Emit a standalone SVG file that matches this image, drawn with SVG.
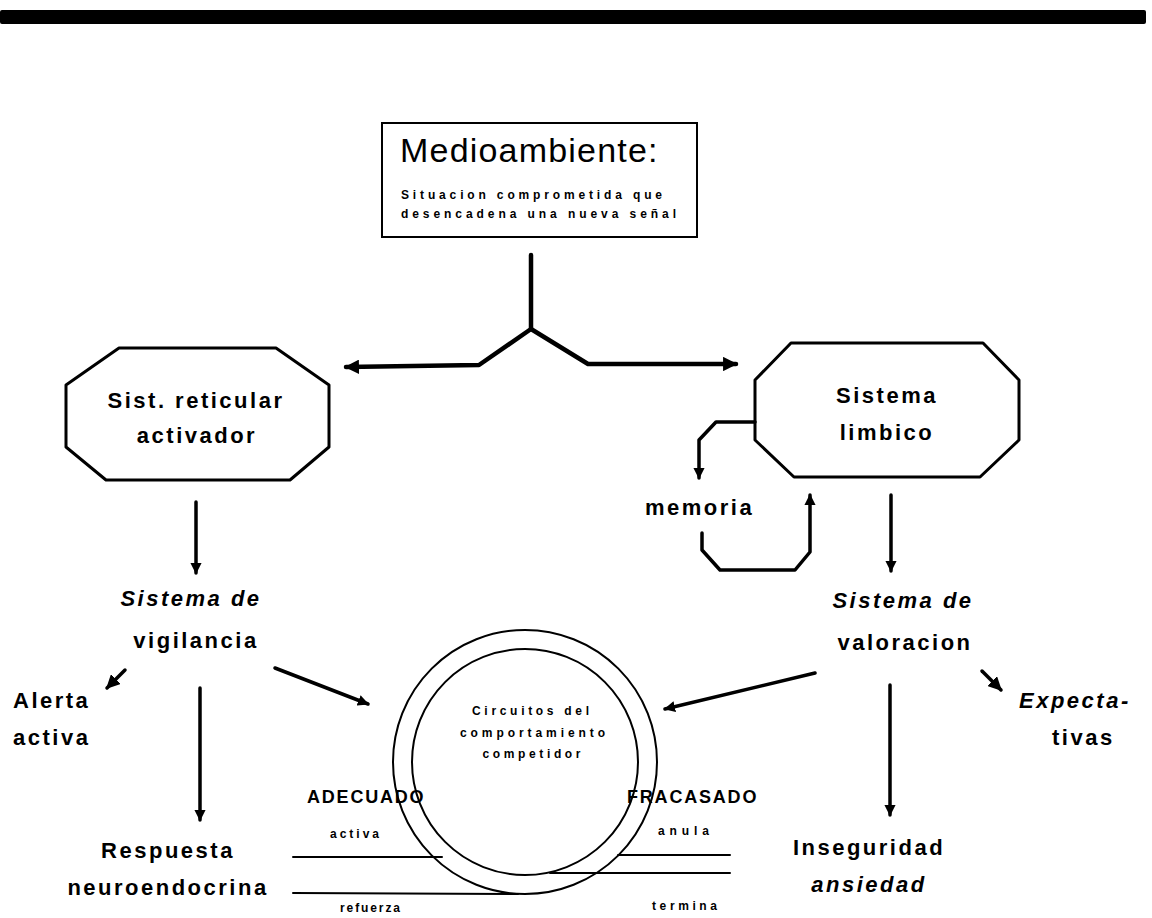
<svg xmlns="http://www.w3.org/2000/svg" width="1152" height="918" viewBox="0 0 1152 918">
  <defs>
    <marker id="ah" viewBox="0 0 10 10" refX="9" refY="5" markerWidth="3.2" markerHeight="3.2" orient="auto" markerUnits="strokeWidth">
      <path d="M0,0 L10,5 L0,10 z" fill="#000"/>
    </marker>
    <marker id="ahs" viewBox="0 0 10 10" refX="9" refY="5" markerWidth="4" markerHeight="4" orient="auto" markerUnits="strokeWidth">
      <path d="M0,0 L10,5 L0,10 z" fill="#000"/>
    </marker>
  </defs>
  <style>
    text { font-family: "Liberation Sans", Arial, Helvetica, sans-serif; fill: #000; }
    .lbl { font-size: 22px; font-weight: bold; letter-spacing: 2.5px; }
    .it { font-style: italic; }
    .sm { font-size: 12px; font-weight: bold; letter-spacing: 3px; }
    .mid { text-anchor: middle; }
    .box { fill: #fff; stroke: #000; stroke-width: 2; }
    .oct { fill: #fff; stroke: #000; stroke-width: 3; stroke-linejoin: round; }
    .ln { fill: none; stroke: #000; stroke-linecap: round; stroke-linejoin: round; }
    .thick { stroke-width: 4.5; }
    .med { stroke-width: 3.5; }
    .thin { stroke-width: 2; }
    .ring { fill: none; stroke: #000; stroke-width: 2; }
  </style>

  <rect width="1152" height="918" fill="#fff"/>

  <!-- header rule -->
  <rect x="0" y="10" width="1146" height="14" rx="2" fill="#000"/>

  <g id="medioambiente">
    <rect class="box" x="382" y="123" width="315" height="114"/>
    <text x="400" y="162" font-size="34" letter-spacing="1.2">Medioambiente:</text>
    <text class="sm" x="401" y="199" font-size="13" textLength="264" lengthAdjust="spacing">Situacion comprometida que</text>
    <text class="sm" x="401" y="218" font-size="13" textLength="278" lengthAdjust="spacing">desencadena una nueva señal</text>
  </g>

  <g id="sist-reticular">
    <polygon class="oct" points="119,348 276,348 329,385 329,447 290,480 106,480 66,447 66,385"/>
    <text class="lbl mid" x="196" y="408" letter-spacing="3">Sist. reticular</text>
    <text class="lbl mid" x="197" y="443" letter-spacing="3">activador</text>
  </g>

  <g id="sistema-limbico">
    <polygon class="oct" points="791,343 983,343 1019,380 1019,440 980,477 794,477 755,440 755,380"/>
    <text class="lbl mid" x="887" y="403" letter-spacing="3">Sistema</text>
    <text class="lbl mid" x="887" y="440" letter-spacing="3">limbico</text>
  </g>

  <g id="memoria">
    <text class="lbl" x="645" y="515" letter-spacing="3">memoria</text>
  </g>

  <g id="vigilancia">
    <text class="lbl mid it" x="191" y="606" letter-spacing="3.5">Sistema de</text>
    <text class="lbl mid" x="196" y="648">vigilancia</text>
  </g>

  <g id="valoracion">
    <text class="lbl mid it" x="903" y="608" letter-spacing="3.5">Sistema de</text>
    <text class="lbl mid" x="905" y="650">valoracion</text>
  </g>

  <g id="alerta">
    <text class="lbl" x="13" y="708">Alerta</text>
    <text class="lbl" x="13" y="745">activa</text>
  </g>

  <g id="expectativas">
    <text class="lbl it" x="1019" y="708" letter-spacing="3.5">Expecta-</text>
    <text class="lbl" x="1052" y="745" letter-spacing="3">tivas</text>
  </g>

  <g id="respuesta">
    <text class="lbl mid" x="168" y="858">Respuesta</text>
    <text class="lbl mid" x="168" y="895">neuroendocrina</text>
  </g>

  <g id="inseguridad">
    <text class="lbl mid" x="869" y="855" letter-spacing="2.4">Inseguridad</text>
    <text class="lbl mid it" x="869" y="892" letter-spacing="2.4">ansiedad</text>
  </g>

  <g id="circuitos">
    <circle class="ring" cx="525" cy="762" r="132"/>
    <circle class="ring" cx="525" cy="762" r="113"/>
    <text class="sm mid" x="532" y="715" font-size="13" textLength="120" lengthAdjust="spacing">Circuitos del</text>
    <text class="sm mid" x="534" y="737" font-size="13" textLength="148" lengthAdjust="spacing">comportamiento</text>
    <text class="sm mid" x="533" y="758" font-size="13" textLength="101" lengthAdjust="spacing">competidor</text>
  </g>

  <g id="adecuado">
    <text x="307" y="803" font-size="18" font-weight="bold" letter-spacing="1.8">ADECUADO</text>
    <text class="sm" x="330" y="838" textLength="52" lengthAdjust="spacing">activa</text>
    <text class="sm" x="340" y="912" textLength="63" lengthAdjust="spacing">refuerza</text>
  </g>

  <g id="fracasado">
    <text x="627" y="803" font-size="18" font-weight="bold" letter-spacing="1.8">FRACASADO</text>
    <text class="sm" x="658" y="835" textLength="54" lengthAdjust="spacing">anula</text>
    <text class="sm" x="652" y="910" textLength="68" lengthAdjust="spacing">termina</text>
  </g>

  <g id="connectors">
    <!-- split from the environment box -->
    <path class="ln thick" d="M531,255 L531,329"/>
    <path class="ln thick" d="M531,329 L479,365 L346,367" marker-end="url(#ah)"/>
    <path class="ln thick" d="M531,329 L588,364 L736,364" marker-end="url(#ah)"/>

    <!-- limbic loop through memory -->
    <path class="ln med" d="M755,422 L716,422 L699,440 L699,478" marker-end="url(#ah)"/>
    <path class="ln med" d="M702,533 L702,550 L720,570 L795,570 L810,552 L810,495" marker-end="url(#ah)"/>

    <!-- downward flow -->
    <path class="ln med" d="M196,502 L196,573" marker-end="url(#ah)"/>
    <path class="ln med" d="M891,495 L891,571" marker-end="url(#ah)"/>
    <path class="ln med" d="M200,688 L200,820" marker-end="url(#ah)"/>
    <path class="ln med" d="M890,685 L890,815" marker-end="url(#ah)"/>

    <!-- side branches -->
    <path class="ln med" d="M125,670 L107,688" marker-end="url(#ahs)"/>
    <path class="ln med" d="M275,668 L368,704" marker-end="url(#ah)"/>
    <path class="ln med" d="M815,673 L665,709" marker-end="url(#ah)"/>
    <path class="ln med" d="M982,671 L1001,690" marker-end="url(#ahs)"/>

    <!-- outcome rails -->
    <path class="ln thin" d="M293,857 L442,857"/>
    <path class="ln thin" d="M293,893 L518,894"/>
    <path class="ln thin" d="M618,855 L730,855"/>
    <path class="ln thin" d="M550,873 L730,873"/>
  </g>
</svg>
